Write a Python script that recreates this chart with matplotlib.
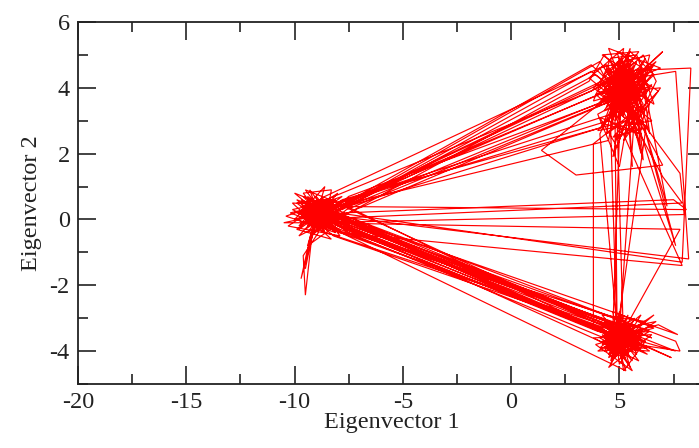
import numpy as np
import matplotlib
matplotlib.use("Agg")
import matplotlib.pyplot as plt
from matplotlib.ticker import MultipleLocator

# Trajectory projected on the first two eigenvectors
phase1 = [
    (-8.8, 0.2), (-9.3, 0.4), (-8.4, 0.1), (-9.7, 0.3), (-8.9, -0.2), (-8.2, 0.5), (-9.5, 0.0),
    (-8.6, 0.6), (-9.9, 0.5), (-8.7, -0.1), (-9.1, 0.3), (-8.0, 0.2), (-9.4, -0.4), (-8.5, 0.4),
    (-9.0, 0.0),
    (4.3, 3.6), (5.2, 4.3), (4.6, 3.2), (5.8, 4.0), (4.9, 4.8), (5.5, 3.4), (4.2, 4.1), (6.0, 4.5),
    (5.1, 3.7), (4.5, 4.6), (5.7, 3.1), (5.0, 4.1), (6.2, 3.8), (4.8, 3.5), (5.4, 5.0), (4.4, 3.9),
    (-8.3, 0.3), (-9.2, 0.1), (-8.6, 0.5), (-9.6, -0.1), (-8.1, 0.0), (-9.0, 0.7), (-8.8, -0.3),
    (-9.8, 0.2), (-8.4, 0.3), (-9.3, -0.6), (-9.5, -1.5), (-9.1, -0.2), (-8.7, 0.4), (-8.2, 0.1),
    (4.9, -3.6), (5.3, -3.2), (4.4, -3.9), (5.8, -3.6), (4.7, -3.1), (5.1, -4.2), (4.2, -3.5),
    (5.6, -3.9), (4.8, -3.4), (5.0, -4.4), (6.1, -3.3), (4.5, -3.7), (5.4, -3.5),
    (-8.0, -0.1), (-8.9, 0.3), (-9.4, 0.1), (-8.5, -0.2), (-10.1, 0.3), (-8.7, 0.5), (-9.2, -0.1),
    (-8.3, 0.2), (-9.7, 0.6), (-8.8, 0.0), (-9.0, 0.4), (-7.8, 0.3),
    (3.9, 4.4), (4.7, 4.0), (5.5, 4.6), (4.3, 3.3), (5.9, 3.7), (5.0, 4.4), (4.6, 2.9), (5.3, 3.9),
    (6.3, 4.2), (4.9, 3.6), (5.6, 4.9), (4.1, 3.8), (5.2, 3.3), (6.6, 4.7), (5.0, 4.0),
    (1.4, 2.1), (3.0, 1.35), (7.0, 1.65), (5.4, 3.6), (4.8, 4.2), (5.9, 4.3),
]

phase2 = [
    (-7.9, 0.5), (-8.6, 0.2), (-9.3, 0.5), (-8.9, -0.4), (-9.6, -1.1), (-9.5, -2.3), (-9.2, -0.5),
    (-8.4, 0.0), (-9.0, 0.2), (-8.1, 0.6), (-9.4, 0.3), (-8.7, -0.1), (-10.5, -0.1), (-9.1, 0.1),
    (-8.5, 0.3),
    (5.5, -3.8), (4.6, -3.3), (5.2, -4.0), (4.1, -3.6), (5.7, -3.2), (4.9, -3.9), (5.4, -2.9),
    (4.5, -4.1), (6.4, -3.4), (5.0, -3.5), (4.3, -3.0), (5.6, -4.3), (4.8, -3.7), (7.8, -4.0),
    (7.6, -3.7),
    (-7.6, 0.1), (-8.8, 0.4), (-9.5, 0.0), (-8.3, -0.2), (-9.1, 0.6), (-8.6, 0.2), (-9.8, -0.2),
    (-8.9, 0.5), (-8.0, 0.0), (-9.3, 0.2), (-8.7, 0.7), (-9.0, -0.1),
    (8.0, 0.15), (7.8, 1.4),
    (5.1, 3.8), (4.5, 4.5), (5.8, 3.5), (4.0, 3.9), (5.3, 4.7), (4.8, 3.0), (6.1, 4.0), (4.6, 3.7),
    (5.5, 4.2), (7.0, 5.1), (5.9, 4.4), (4.4, 4.2), (5.2, 3.1), (5.0, 4.6), (6.4, 3.6),
    (4.9, -3.4), (5.3, -3.8), (4.4, -3.4), (5.9, -3.7), (4.7, -4.0), (5.1, -3.1), (4.2, -3.8),
    (5.5, -3.5), (6.6, -2.9), (5.0, -3.6), (4.6, -4.4), (5.4, -3.3),
    (-8.2, 0.0), (-9.0, 0.4), (-8.5, -0.1), (-9.7, 0.2), (-8.3, 0.5), (-9.3, 0.0), (-8.8, 0.3),
    (-9.9, 0.6), (-8.4, -0.3), (-9.1, 0.2), (-8.6, 0.6), (-9.5, 0.4), (-7.7, 0.4),
    (4.1, 4.8), (4.8, 4.1), (5.6, 3.6), (4.3, 4.4), (5.1, 4.9), (5.9, 3.2), (4.6, 3.5), (5.4, 4.1),
    (6.2, 4.6), (4.9, 3.3), (5.3, 4.3), (4.2, 3.6), (5.7, 4.7), (5.0, 3.9), (6.0, 4.1), (4.7, 4.5),
    (8.3, 4.6), (7.9, -1.3),
]

phase3 = [
    (-8.0, 0.2), (-8.8, -0.1), (-9.2, 0.3), (-8.4, 0.4), (-9.6, 0.1), (-8.7, 0.0), (-9.0, 0.6),
    (-8.2, -0.2), (-9.4, 0.5), (-8.9, 0.2), (-9.7, -1.8), (-9.2, -0.3), (-8.5, 0.2),
    (6.2, -3.9), (5.2, -3.5), (4.5, -3.8), (5.7, -3.3), (4.9, -4.1), (5.3, -3.6), (4.3, -3.2),
    (5.8, -4.0), (4.7, -3.5), (5.1, -3.0), (4.6, -4.3), (5.5, -3.7), (4.9, -3.4),
    (4.1, 2.6), (5.0, 3.9), (4.6, 3.4), (5.5, 4.4), (4.9, 3.8), (5.8, 3.9), (4.4, 4.6), (5.2, 3.2),
    (6.0, 4.3), (5.0, 4.7), (4.7, 4.0), (5.6, 3.5), (5.3, 4.2), (4.5, 3.7), (6.3, 3.9), (5.1, 4.5),
    (4.7, -3.3), (5.2, -3.9), (4.4, -3.6), (5.6, -3.4), (4.9, -3.8), (6.0, -3.6), (4.6, -3.1),
    (5.3, -4.1), (4.8, -3.5),
    (-7.8, -0.2), (-8.6, 0.3), (-9.3, -0.1), (-8.4, 0.5), (-9.7, 0.4), (-8.9, -0.2), (-9.1, 0.5),
    (-8.2, 0.2), (-9.5, 0.1), (-8.7, 0.3),
    (4.5, 2.4), (5.0, 4.3), (5.6, 3.8), (4.6, 4.8), (5.3, 3.5), (6.5, 4.4), (4.9, 3.1), (5.7, 4.5),
    (4.3, 3.5), (5.1, 4.0), (6.1, 3.3), (5.4, 4.8), (4.8, 3.7),
    (-7.5, 0.7), (-8.5, 0.1), (-9.2, 0.4), (-8.8, -0.3), (-9.9, 0.0), (-8.3, 0.3), (-9.0, 0.1),
    (-8.6, -0.4), (-9.4, 0.7), (-8.1, 0.1),
    (5.1, -3.7), (4.6, -3.2), (5.5, -4.0), (4.2, -3.7), (5.9, -3.4), (4.8, -4.2), (5.2, -3.3),
    (6.7, -3.1), (5.0, -3.8), (4.4, -3.4),
    (-8.1, -0.3), (-9.0, 0.2), (-8.5, 0.6), (-9.6, 0.3), (-8.7, -0.2), (-9.2, 0.1), (-8.3, 0.4),
    (-9.8, -0.3), (-8.9, 0.4),
    (8.1, 0.3), (7.5, 0.6), (-7.7, 0.2),
]

phase4 = [
    (-8.6, 0.1), (-9.3, 0.3), (-8.4, -0.1), (-9.0, 0.5), (-8.8, 0.2), (-9.5, -0.3), (-8.2, 0.3),
    (3.7, 4.7), (4.5, 4.2), (5.3, 3.7), (4.8, 4.6), (5.7, 4.1), (4.4, 3.4), (5.5, 5.2), (5.0, 3.5),
    (6.0, 3.9), (4.7, 4.3),
    (-7.9, 0.4), (-8.7, 0.2), (-9.4, 0.0), (-8.5, 0.5), (-9.1, -0.2), (-8.3, 0.0), (-8.9, 0.3),
    (4.5, 3.0), (5.2, 4.1), (4.8, 3.4), (5.9, 4.6), (4.3, 4.0), (5.4, 3.3), (5.0, 4.9), (6.1, 3.5),
    (3.8, 2.3), (3.8, -3.2), (4.6, -3.6), (5.4, -3.1), (4.3, -4.0), (5.7, -3.8), (4.9, -3.3),
    (5.3, -4.3), (4.5, -3.5),
    (-8.0, -0.2), (-8.8, 0.4), (-9.5, 0.2), (-8.6, -0.1), (-9.2, 0.6), (-8.4, 0.1), (-9.0, -0.3),
    (5.6, -3.5), (4.8, -3.9), (5.2, -3.2), (4.4, -3.7), (6.0, -3.9), (4.9, -3.5), (7.6, -4.0),
    (-7.8, 0.0), (-8.7, 0.3), (-9.3, 0.1), (-8.5, -0.3), (-9.0, 0.4), (-8.3, 0.2),
    (4.0, 4.0), (4.9, 4.4), (5.5, 3.8), (4.6, 3.9), (5.2, 4.6), (6.4, 4.0), (5.0, 3.2), (5.7, 4.3),
    (7.6, 4.5), (8.2, -1.2), (-8.1, 0.1),
    (-8.9, 0.5), (-9.6, 0.2), (-8.5, 0.0), (-9.2, -0.2), (-8.7, 0.4), (-9.4, 0.6), (-8.3, -0.1),
    (5.7, -3.4), (4.7, -3.8), (5.3, -3.0), (4.5, -4.2), (5.8, -3.7), (5.0, -3.6), (4.4, -3.3),
    (6.3, -4.1), (4.9, -3.7),
    (4.6, 2.7), (5.1, 4.2), (4.4, 3.8), (5.6, 4.0), (4.9, 4.7), (5.3, 3.4), (4.7, 3.9), (6.2, 4.3),
    (5.0, 3.6), (5.8, 4.8), (4.5, 4.3),
    (-7.6, 0.5), (-8.6, 0.0), (-9.1, 0.4), (-8.4, 0.2), (-9.7, 0.1), (-8.8, -0.2), (-9.3, 0.3),
    (-8.2, 0.4), (-9.0, 0.0),
    (5.4, -3.9), (4.6, -3.4), (5.1, -3.8), (4.3, -3.5), (5.7, -3.2), (4.8, -4.0), (5.2, -3.5),
    (6.8, -3.2), (7.7, -3.5),
    (-8.0, 0.1), (-8.7, -0.3), (-9.2, 0.2), (-8.5, 0.6), (-9.5, 0.3), (-8.8, 0.1),
]

phase5 = [
    (-8.1, -0.4), (-9.0, 0.1), (-8.4, 0.3),
    (4.4, -3.1), (5.3, -3.7), (4.7, -4.2), (5.9, -3.5), (5.1, -3.2),
    (-7.7, -0.3), (-8.9, 0.2), (-9.6, 0.8), (-8.3, 0.9), (-8.6, -0.2),
    (3.6, 4.2), (4.3, 5.0), (5.1, 4.4), (6.1, 5.0), (6.7, 4.2), (5.6, 2.7), (4.1, 3.1), (4.9, 2.2),
    (5.3, 3.0),
    (-7.8, 0.6), (-8.8, 0.0), (-9.3, 0.9), (-8.5, 0.2),
    (6.5, -3.6), (5.4, -3.3), (4.6, -3.9), (5.0, -2.8), (5.8, -4.1), (4.2, -3.3),
    (-8.2, -0.5), (-9.1, 0.0), (-8.4, 0.6),
    (7.4, -4.2), (6.0, -3.8), (4.9, -3.2), (5.5, -4.5), (4.5, -3.5),
    (-7.9, -0.1), (-8.7, 0.5), (-9.4, -0.2), (-8.0, 0.3),
    (4.2, 2.8), (5.0, 4.2), (6.6, 3.5), (5.8, 5.0), (4.6, 4.9), (3.8, 3.6), (5.4, 3.9), (6.9, 4.0),
    (5.2, 2.4), (5.7, 3.2),
    (5.0, -3.4), (4.4, -4.0), (5.6, -3.7), (4.8, -3.2), (5.2, -3.9),
    (4.9, 2.9), (5.5, 4.5), (4.3, 4.1), (6.0, 3.6), (5.1, 4.9), (4.7, 3.3), (7.9, -1.4),
    (-8.0, -0.4), (-8.8, 0.3), (-9.5, 0.1), (-8.6, 0.7),
    (4.4, 4.7), (5.3, 4.0), (6.2, 4.9), (5.0, 3.3), (5.9, 3.9), (4.6, 3.6),
    (-7.6, 0.3), (-8.5, -0.2), (-9.0, 0.5), (-8.3, 0.0),
    (4.1, -3.7), (5.0, -4.0), (5.7, -3.0), (4.6, -3.5), (6.2, -3.7), (5.2, -3.4),
    (-8.1, 0.0), (-9.2, -0.4), (-8.6, 0.2), (-9.9, 0.2), (-8.8, -0.1),
    (5.3, -4.6), (4.8, -3.6), (5.5, -3.2), (4.3, -3.9), (6.1, -3.5),
    (-7.9, -0.2), (-8.4, 0.2), (-9.3, 0.4),
    (3.7, 3.9), (4.6, 4.3), (5.5, 3.1), (6.3, 4.5), (4.9, 5.1), (5.4, 3.6),
]

phase6 = [
    (5.6, 1.6), (5.3, 3.8), (6.0, 2.0), (5.7, 4.1), (6.4, 2.6), (6.0, 4.6), (7.2, 0.4), (5.9, 3.4),
    (7.6, -0.8), (5.2, 4.3), (4.8, 3.0),
    (4.9, -3.7), (5.4, -3.4), (4.5, -4.1), (5.8, -3.9), (4.9, -3.0),
    (-7.5, -0.4), (-8.6, 0.1), (-9.2, -0.2), (-8.3, 0.5), (-9.6, 0.4),
    (6.0, -3.3), (5.1, -3.8), (4.4, -3.6), (5.5, -4.2), (4.8, -3.3),
    (-8.2, 0.2), (-9.0, -0.3), (-8.5, 0.4), (-9.4, 0.0),
    (7.9, 0.5), (7.0, 1.3), (5.3, 3.4), (4.5, 4.0), (5.8, 4.4), (5.0, 3.7),
    (-7.9, 0.1), (-8.7, 0.4), (-9.1, -0.1),
    (7.8, -0.3), (5.1, -3.5), (4.6, -3.9), (5.6, -3.6),
    (-8.3, -0.3), (-9.0, 0.3), (-8.4, 0.1),
]

phase7 = [
    (3.7, 4.5), (6.5, 3.0), (4.0, 2.7), (6.7, 4.8), (3.9, 3.4), (5.9, 5.1), (4.2, 5.0), (6.8, 3.9),
    (4.7, 2.5), (6.3, 2.8), (3.8, 4.0), (5.5, 5.1), (6.6, 4.4), (4.3, 2.9), (6.0, 2.6), (4.5, 5.2),
    (6.9, 4.6), (3.9, 3.8), (5.6, 2.9), (6.4, 5.0), (4.1, 4.6), (5.9, 2.4), (6.2, 3.4), (4.4, 2.6),
    (5.2, 5.2), (3.6, 4.3), (6.0, 3.0), (4.8, 2.4), (6.5, 4.1), (4.0, 3.2),
    (5.0, 1.6), (5.5, 3.5), (6.1, 1.8), (5.8, 3.8), (4.7, 1.9), (5.1, 3.3),
    (-7.6, 0.6), (-10.2, 0.2), (-7.8, -0.4), (-10.0, 0.8), (-7.7, 0.2), (-9.8, -0.5), (-8.0, 0.8),
    (-10.3, -0.2), (-7.9, -0.5), (-9.5, 0.9), (-7.6, 0.4), (-10.1, 0.5), (-8.3, -0.6), (-9.9, -0.3),
    (-7.8, 0.7), (-10.4, 0.1), (-8.1, -0.4), (-9.6, 0.7), (-7.7, 0.0), (-9.4, -0.8), (-8.6, 1.0),
    (-10.0, 0.0), (-7.9, 0.5),
    (3.9, -3.3), (6.3, -3.9), (4.0, -4.0), (6.2, -3.1), (4.2, -2.9), (5.9, -4.3), (3.8, -3.6),
    (6.5, -3.5), (4.5, -4.5), (6.0, -2.9), (4.1, -3.9), (6.4, -4.0), (4.3, -3.1), (5.6, -4.6),
    (3.9, -3.8), (6.6, -3.3), (4.7, -2.8), (5.2, -4.6), (6.2, -3.7), (4.0, -3.4),
    (-8.0, -0.2), (-8.9, 0.2), (-8.4, 0.5),
]

segments = [phase1, phase2, phase3, phase4, phase5, phase6, phase7]
traj = np.array([p for seg in segments for p in seg])
ev1, ev2 = traj[:, 0], traj[:, 1]

plt.rcParams['font.family'] = ['Liberation Serif', 'DejaVu Serif']
plt.rcParams['axes.unicode_minus'] = False

fig = plt.figure(figsize=(6.99, 4.48), dpi=100)
ax = fig.add_axes([78 / 699, 64 / 448, (706 - 78) / 699, 362 / 448])
ax.plot(ev1, ev2, color='#ff0000', lw=0.85, solid_joinstyle='miter')

ax.set_xlim(-20, 9)
ax.set_ylim(-5, 6)
ax.xaxis.set_major_locator(MultipleLocator(5))
ax.xaxis.set_minor_locator(MultipleLocator(2.5))
ax.yaxis.set_major_locator(MultipleLocator(2))
ax.yaxis.set_minor_locator(MultipleLocator(1))
ax.tick_params(which='both', direction='in', top=True, right=True, width=1.2,
               labelsize=17.5, color='#222222', labelcolor='#222222')
ax.tick_params(which='major', length=13, pad=6)
ax.tick_params(which='minor', length=7)
for s in ax.spines.values():
    s.set_linewidth(1.3)
    s.set_color('#222222')

ax.set_xlabel('Eigenvector 1', fontsize=17.5, color='#222222', labelpad=-1)
ax.set_ylabel('Eigenvector 2', fontsize=17.5, color='#222222', labelpad=5)

fig.savefig('out.png', dpi=100)
